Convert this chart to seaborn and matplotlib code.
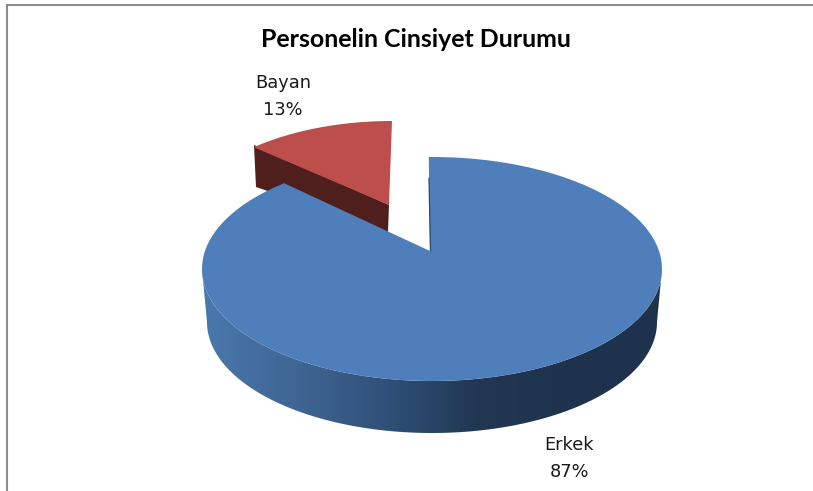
import numpy as np
import matplotlib
matplotlib.use('Agg')
import matplotlib.pyplot as plt
from matplotlib.patches import Polygon
import seaborn as sns

# 데이터
labels = ['Erkek', 'Bayan']
shares = [87, 13]
title = 'Personelin Cinsiyet Durumu'

sns.set_theme(style='white')
blue, red = sns.color_palette(['#4e7fbb', '#bc4f4b'])
red_wall = '#4f1f1d'
wall_cmap = sns.blend_palette(['#4a78ad', '#3f6694', '#2f5078', '#213752', '#1e324d', '#1e324d'],
                              n_colors=256, as_cmap=True)

fig, ax = plt.subplots(figsize=(8.13, 4.91), dpi=100)
ax.set_position([0, 0, 1, 1])
ax.axis('off')


def arc(cx, cy, rx, ry, a0, a1):
    # 각도는 12시 방향부터 시계방향
    t = np.radians(np.linspace(a0, a1, 200))
    return np.column_stack([cx + rx * np.sin(t), cy - ry * np.cos(t)])


# 원근 때문에 뒤쪽 각도가 좁아 보임
squeeze = 0.855
gap = shares[1] / sum(shares) * 360 * squeeze

# 옆면 (파랑)
wall = np.vstack([arc(432, 322, 225, 111, 90, 270), arc(432, 269, 230, 112, 270, 90)])
wall_patch = Polygon(wall, closed=True, fc='none', ec='none')
ax.add_patch(wall_patch)
grad = np.linspace(0, 1, 256).reshape(1, -1)
im = ax.imshow(grad, cmap=wall_cmap, extent=[202, 662, 433, 269], aspect='auto', zorder=2)
im.set_clip_path(wall_patch)
ax.set_xlim(0, 813)
ax.set_ylim(491, 0)

# 떨어져 나온 조각 (빨강)
ax.add_patch(Polygon([[254, 145], [389, 205], [388, 232], [256, 187]], closed=True,
                     fc=red_wall, ec='none', zorder=1))
red_arc = arc(392, 233, 215, 112, 360 - gap, 360)
ax.add_patch(Polygon(np.vstack([[[389, 205]], red_arc]), closed=True, fc=red, ec='none', zorder=1.5))

# 윗면 (파랑)
top_arc = arc(432, 269, 230, 112, -0.8, 360 - gap)
ax.add_patch(Polygon(np.vstack([[[430, 251]], top_arc]), closed=True, fc=blue, ec='none', zorder=3))
ax.plot([429, 430.5], [178, 251], color='#2c4a6e', lw=0.9, zorder=3.5)

# 테두리
ax.plot([6.5, 6.5], [491, 5], color='#8c8c8c', lw=1.5, zorder=5, solid_capstyle='butt')
ax.plot([6, 813], [5, 5], color='#8c8c8c', lw=1.5, zorder=5, solid_capstyle='butt')

# 글자
ax.text(416, 39, title, ha='center', va='center', fontsize=17.9, fontweight='bold',
        family='Lato', color='black')
ax.text(569, 458.5, f'{labels[0]}\n{shares[0]}%', ha='center', va='center', fontsize=12.8,
        family='DejaVu Sans', color='#1a1a1a', linespacing=1.62)
ax.text(283, 96.5, f'{labels[1]}\n{shares[1]}%', ha='center', va='center', fontsize=12.8,
        family='DejaVu Sans', color='#1a1a1a', linespacing=1.62)

fig.savefig('out.png', dpi=100)
